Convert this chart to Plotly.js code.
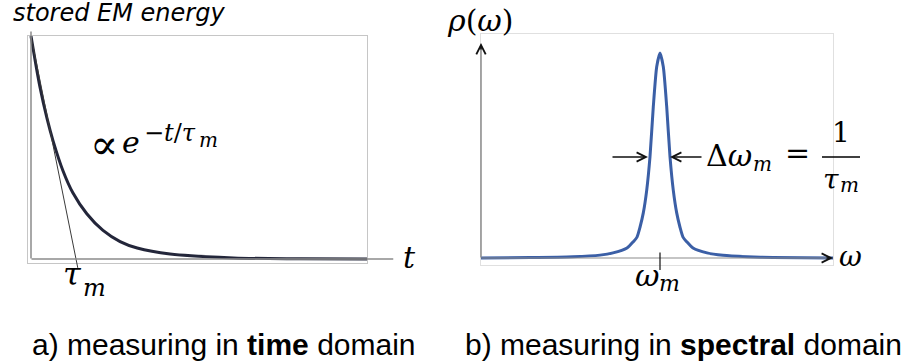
<!DOCTYPE html>
<html><head><meta charset="utf-8">
<script src="https://cdn.plot.ly/plotly-3.0.1.min.js"></script>
<style>html,body{margin:0;padding:0;background:#fff;} #chart{width:907px;height:361px;}</style>
</head><body><div id="chart"></div>
<script>
// ---- Panel a) stored EM energy vs time (t in units of tau_m, energy normalised) ----
const timeT   = [0, 0.2, 0.36, 0.49, 0.71, 0.93, 1.24, 1.6, 1.98, 2.36, 3.09, 4.5, 6.0, 7.47];
const energyE = [1, 0.77, 0.627, 0.53, 0.396, 0.297, 0.203, 0.128, 0.078, 0.049, 0.022, 0.005, 0.001, 0];
const tangentT = [0, 1.04];
const tangentE = [1, -0.04];
// ---- Panel b) spectral density vs (omega - omega_m) in half-widths ----
const omegaW = [-17.9, -13, -8.7, -6, -4.7, -3.3, -2.7, -2.3, -2.0, -1.67, -1.33, -1.0, -0.67, -0.33, 0,
                0.33, 0.67, 1.0, 1.33, 1.67, 2.0, 2.3, 2.7, 3.3, 4.7, 6.3, 8.7, 11.3, 17.3];
const rhoW   = [0, 0.002, 0.006, 0.014, 0.025, 0.049, 0.078, 0.102, 0.15, 0.22, 0.33, 0.494, 0.738, 0.933, 1,
                0.933, 0.738, 0.494, 0.33, 0.22, 0.15, 0.102, 0.078, 0.049, 0.025, 0.013, 0.006, 0.002, 0];
const halfMax = 0.4927;
// ---- labels ----
const captionA = 'a) measuring in <b>time</b> domain';
const captionB = 'b) measuring in <b>spectral</b> domain';
const yLabelA = 'stored EM energy';

const W = 907, H = 361;
const SERIF = "'DejaVu Serif', serif";

function txt(px, py, text, size, opts) {
  return Object.assign({xref:'paper', yref:'paper', x:px/W, y:1-py/H, text:text, showarrow:false,
    xanchor:'left', yanchor:'middle', borderpad:0,
    font:{family:SERIF, size:size, color:'#000'}}, opts || {});
}
function seg(xr, yr, x0, y0, x1, y1, color, width) {
  return {xref:xr, yref:yr, x:x1, y:y1, ax:x0, ay:y0, axref:xr, ayref:yr, text:'',
    showarrow:true, arrowhead:0, arrowwidth:width, arrowcolor:color, font:{size:1}, borderpad:0};
}
function head(xr, yr, x, y, dx, dy, color) {
  return {xref:xr, yref:yr, x:x, y:y, ax:dx, ay:dy, text:'', showarrow:true, arrowhead:5,
    arrowsize:1.15, arrowwidth:1.6, arrowcolor:color, font:{size:1}, borderpad:0};
}
function arrowData(xr, yr, x, y, x0, y0, color) {
  return {xref:xr, yref:yr, x:x, y:y, ax:x0, ay:y0, axref:xr, ayref:yr, text:'', showarrow:true,
    arrowhead:5, arrowsize:1.15, arrowwidth:1.6, arrowcolor:color, font:{size:1}, borderpad:0};
}

const traces = [
  {type:'scatter', mode:'lines', x:timeT, y:energyE, xaxis:'x', yaxis:'y',
   line:{color:'#23263a', width:3, shape:'spline', smoothing:0.9}, hoverinfo:'skip'},
  {type:'scatter', mode:'lines', x:omegaW, y:rhoW, xaxis:'x2', yaxis:'y2',
   line:{color:'#3b5fa6', width:3, shape:'spline', smoothing:0.6}, hoverinfo:'skip'}
];

const axBase = {showgrid:false, zeroline:false, showticklabels:false, ticks:'', showline:true, mirror:true, linewidth:1, fixedrange:true};

const annotations = [
  // panel a axes
  seg('x','y', tangentT[0], tangentE[0], tangentT[1], tangentE[1], '#3a3a3a', 1),
  seg('x','y', 0, 0, 0, 1.02, '#8c8c8c', 1.5),
  head('x','y', 0, 1.031, 0, 7, '#111'),
  seg('x','y', 0, 0, 8.05, 0, '#8c8c8c', 1.5),
  head('x','y', 8.16, 0, -7, 0, '#111'),
  // panel b axes
  seg('x2','y2', -17.9, 0, -17.9, 1.04, '#8c8c8c', 1.5),
  head('x2','y2', -17.9, 1.049, 0, 7, '#111'),
  seg('x2','y2', -17.9, 0, 17.1, 0, '#8c8c8c', 1.2),
  head('x2','y2', 17.3, 0, -7, 0, '#111'),
  seg('x2','y2', 0, 0.029, 0, -0.0585, '#111', 1.2),
  // width arrows
  arrowData('x2','y2', -1.2, halfMax, -4.8, halfMax, '#111'),
  arrowData('x2','y2', 1.0, halfMax, 4.2, halfMax, '#111'),

  // texts
  txt(119, 13.2, yLabelA, 24, {xanchor:'center', font:{family:"'DejaVu Sans', 'Liberation Sans', sans-serif", size:24, style:'italic', color:'#000'}}),
  txt(223.5, 344.6, captionA, 30, {xanchor:'center', font:{family:"'Liberation Sans', Arial, sans-serif", size:30, color:'#000'}}),
  txt(683.5, 344.6, captionB, 30, {xanchor:'center', font:{family:"'Liberation Sans', Arial, sans-serif", size:30, color:'#000'}}),
  // proportional-to expression
  txt(89, 144, '∝', 42),
  txt(121, 142.2, '<i>e</i>', 30),
  txt(143, 133.2, '−<i>t</i>/<i>τ</i>', 24),
  txt(198, 139.6, '<i>m</i>', 20),
  // tau_m under left axis
  txt(62, 273.5, '<i>τ</i>', 32),
  txt(82, 287.5, '<i>m</i>', 24),
  // t axis label
  txt(409, 257, '<i>t</i>', 30, {xanchor:'center'}),
  // rho(omega)
  txt(480, 20.5, '<i>ρ</i>(<i>ω</i>)', 30, {xanchor:'center'}),
  // omega axis label
  txt(838, 256.2, '<i>ω</i>', 28),
  // omega_m
  txt(634, 275.5, '<i>ω</i>', 30),
  txt(658, 283.2, '<i>m</i>', 22),
  // delta omega = 1/tau
  txt(705, 155.5, 'Δ<i>ω</i>', 30),
  txt(752, 163.9, '<i>m</i>', 20),
  txt(784, 152.5, '=', 30),
  txt(841, 132.9, '1', 28, {xanchor:'center'}),
  txt(822, 179.9, '<i>τ</i>', 28),
  txt(839, 184.9, '<i>m</i>', 20)
];

const layout = {
  width:W, height:H, margin:{l:0, r:0, t:0, b:0, pad:0},
  paper_bgcolor:'#fff', plot_bgcolor:'#fff', showlegend:false,
  xaxis: Object.assign({}, axBase, {domain:[28/W, 367/W], range:[-3/45, 336/45], linecolor:'#c6c6c6', anchor:'y'}),
  yaxis: Object.assign({}, axBase, {domain:[1-263/H, 1-36/H], range:[-4/223, 1.0], linecolor:'#c6c6c6', anchor:'x'}),
  xaxis2: Object.assign({}, axBase, {domain:[481/W, 833/W], range:[-17.9, 17.3], linecolor:'#e0e0e0', anchor:'y2'}),
  yaxis2: Object.assign({}, axBase, {domain:[1-265/H, 1-34/H], range:[-7/205, 224/205], linecolor:'#e0e0e0', anchor:'x2'}),
  annotations: annotations,
  shapes: [
    {type:'line', xref:'paper', yref:'paper', x0:822/W, x1:860/W, y0:1-157/H, y1:1-157/H, line:{color:'#000', width:1.3}}
  ]
};

Plotly.newPlot('chart', traces, layout, {staticPlot:true, displayModeBar:false});
</script>
</body></html>
